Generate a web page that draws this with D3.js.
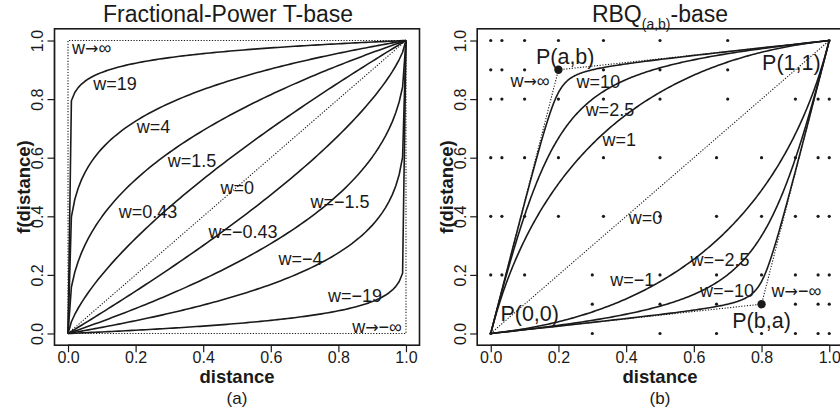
<!DOCTYPE html>
<html>
<head>
<meta charset="utf-8">
<script src="https://cdn.jsdelivr.net/npm/d3@7/dist/d3.min.js"></script>
<style>
  html, body { margin: 0; padding: 0; background: #fff; }
  svg text { font-family: "Liberation Sans", Arial, Helvetica, sans-serif; fill: #1a1a1a; }
  svg tspan.sym { font-family: "DejaVu Sans", sans-serif; }
</style>
</head>
<body>
<svg id="chart" width="840" height="416"></svg>
<script>
// ---- data -------------------------------------------------------------
const tickValues = [0, 0.2, 0.4, 0.6, 0.8, 1.0];
const tickLabels = ["0.0", "0.2", "0.4", "0.6", "0.8", "1.0"];

// Fractional-power T-base: one curve per shape parameter w
const powerW = [19, 4, 1.5, 0.43, -0.43, -1.5, -4, -19];
const powerLabels = ["w=19", "w=4", "w=1.5", "w=0.43", "w=\u22120.43", "w=\u22121.5", "w=\u22124", "w=\u221219"];
// distance sampling used for the power curves
const distanceSamples = d3.range(0, 101).map(i => i / 100);

// RBQ(a,b)-base: rational quadratic Bezier, control point P(a,b) for w>0, P(b,a) for w<0
const ctrlPos = [0.2, 0.9];   // P(a,b)
const ctrlNeg = [0.8, 0.1];   // P(b,a)
const rbqW = [10, 2.5, 1, -1, -2.5, -10];
const rbqLabels = ["w=10", "w=2.5", "w=1", "w=\u22121", "w=\u22122.5", "w=\u221210"];

// reference point lattice in panel (b): rows (f values) and their distance positions
const latticeRows = [1.0, 0.9, 0.8, 0.6, 0.4, 0.2, 0.1, 0.0];
const latticeCols = [
  [0, 0.033, 0.1, 0.2, 0.333, 0.5, 0.7, 1],
  [0, 0.033, 0.1, 0.333, 0.5, 0.7],
  [0, 0.033, 0.1, 0.2, 0.333, 0.5, 0.7, 0.9, 0.967, 1],
  [0, 0.033, 0.1, 0.2, 0.333, 0.5, 0.667, 0.8, 0.9, 0.967, 1],
  [0, 0.033, 0.1, 0.2, 0.333, 0.5, 0.667, 0.8, 0.9, 0.967, 1],
  [0, 0.033, 0.1, 0.3, 0.5, 0.667, 0.8, 0.9, 0.967, 1],
  [0.3, 0.5, 0.667, 0.9, 0.967, 1],
  [0, 0.3, 0.5, 0.667, 0.8, 0.9, 0.967, 1]
];

// ---- curve definitions ------------------------------------------------
function fracPower(w, d) {
  return w >= 0 ? Math.pow(d, 1 / (1 + w)) : 1 - Math.pow(1 - d, 1 / (1 - w));
}
function rbqPoint(w, t) {
  const c = w >= 0 ? ctrlPos : ctrlNeg, om = Math.abs(w);
  const b0 = (1 - t) * (1 - t), b1 = 2 * t * (1 - t) * om, b2 = t * t;
  const den = b0 + b1 + b2;
  return [(b1 * c[0] + b2) / den, (b1 * c[1] + b2) / den];
}

// ---- layout -----------------------------------------------------------
const svg = d3.select("#chart");
const ink = "#1a1a1a";
const domain = [-0.04, 1.04];
const y = d3.scaleLinear().domain(domain).range([345.2, 28.8]);
const panels = [
  { x: d3.scaleLinear().domain(domain).range([54.5, 419.5]), cx: 237, titleX: 228, tag: "(a)" },
  { x: d3.scaleLinear().domain(domain).range([477.2, 842.8]), cx: 660, titleX: 660, tag: "(b)" }
];

function drawFrame(p) {
  const g = svg.append("g");
  const [x0, x1] = p.x.range();
  g.append("rect").attr("x", x0).attr("y", y.range()[1])
    .attr("width", x1 - x0).attr("height", y.range()[0] - y.range()[1])
    .attr("fill", "none").attr("stroke", ink).attr("stroke-width", 1.6);

  const ax = g.append("g").attr("transform", `translate(0,${y.range()[0]})`)
    .call(d3.axisBottom(p.x).tickValues(tickValues).tickFormat((d, i) => tickLabels[i]).tickSize(7).tickSizeOuter(0));
  ax.select(".domain").attr("d", `M${p.x(0)},0H${p.x(1)}`).attr("stroke", ink).attr("stroke-width", 1.2);
  ax.selectAll(".tick line").attr("stroke", ink).attr("stroke-width", 1.2);
  ax.selectAll(".tick text").attr("y", 18).attr("dy", null).attr("font-size", 16).style("fill", ink);

  const ay = g.append("g").attr("transform", `translate(${x0},0)`)
    .call(d3.axisLeft(y).tickValues(tickValues).tickFormat((d, i) => tickLabels[i]).tickSize(7).tickSizeOuter(0));
  ay.select(".domain").attr("d", `M0,${y(0)}V${y(1)}`).attr("stroke", ink).attr("stroke-width", 1.2);
  ay.selectAll(".tick line").attr("stroke", ink).attr("stroke-width", 1.2);
  ay.selectAll(".tick text").attr("x", null).attr("dy", null)
    .attr("transform", "translate(-11.5,0) rotate(-90)").attr("text-anchor", "middle")
    .attr("font-size", 16).style("fill", ink);

  g.append("text").attr("x", p.cx).attr("y", 383).attr("text-anchor", "middle")
    .attr("font-size", 18.5).attr("font-weight", "bold").text("distance");
  g.append("text").attr("x", p.cx).attr("y", 404).attr("text-anchor", "middle")
    .attr("font-size", 17).text(p.tag);
  g.append("text").attr("transform", `translate(${x0 - 24.5},${(y(0) + y(1)) / 2}) rotate(-90)`)
    .attr("text-anchor", "middle").attr("font-size", 18.5).attr("font-weight", "bold").text("f(distance)");
}
panels.forEach(drawFrame);

function lineOf(xs) { return d3.line().x(d => xs(d[0])).y(d => y(d[1])); }
function solid(sel) { return sel.attr("fill", "none").attr("stroke", ink).attr("stroke-width", 1.6).attr("stroke-linejoin", "round"); }
function dotted(sel) { return sel.attr("fill", "none").attr("stroke", ink).attr("stroke-width", 1.1).attr("stroke-dasharray", "1.2,1.6"); }
function label(g, xs, px, py, txt, size, anchor) {
  return g.append("text").attr("x", xs(px)).attr("y", y(py)).attr("dominant-baseline", "central")
    .attr("text-anchor", anchor || "middle").attr("font-size", size).text(txt);
}
// "w → ±∞" limit labels, arrow set in a font with a full-width arrow glyph
function limitLabel(g, xs, px, py, neg, anchor) {
  const t = g.append("text").attr("x", xs(px)).attr("y", y(py)).attr("dominant-baseline", "central")
    .attr("text-anchor", anchor || "middle").attr("font-size", 18);
  t.append("tspan").text("w");
  t.append("tspan").attr("class", "sym").attr("font-size", 16).text("\u2192");
  t.append("tspan").text((neg ? "\u2212" : "") + "\u221E");
  return t;
}

// ---- panel (a): Fractional-Power T-base -------------------------------
{
  const xs = panels[0].x, line = lineOf(xs);
  const g = svg.append("g");
  svg.append("text").attr("x", panels[0].titleX).attr("y", 22).attr("text-anchor", "middle")
    .attr("font-size", 23).text("Fractional-Power T-base");

  dotted(g.append("path")).attr("d", line([[0, 0], [1, 1]]));
  dotted(g.append("path")).attr("d", line([[0, 0], [0, 1], [1, 1]]));
  dotted(g.append("path")).attr("d", line([[0, 0], [1, 0], [1, 1]]));

  powerW.forEach(w => {
    solid(g.append("path")).attr("d", line(distanceSamples.map(d => [d, fracPower(w, d)])));
  });

  const pos = [[0.139, 0.851], [0.253, 0.706], [0.367, 0.589], [0.237, 0.416],
               [0.518, 0.345], [0.805, 0.450], [0.688, 0.253], [0.849, 0.128]];
  powerLabels.forEach((t, i) => label(g, xs, pos[i][0], pos[i][1], t, 18));
  label(g, xs, 0.501, 0.496, "w=0", 18);
  limitLabel(g, xs, 0.012, 0.974, false, "start");
  limitLabel(g, xs, 0.988, 0.023, true, "end");
}

// ---- panel (b): RBQ(a,b)-base ----------------------------------------
{
  const xs = panels[1].x, line = lineOf(xs);
  const g = svg.append("g");
  const title = svg.append("text").attr("x", panels[1].titleX).attr("y", 22)
    .attr("text-anchor", "middle").attr("font-size", 23);
  title.append("tspan").text("RBQ");
  title.append("tspan").attr("font-size", 14).attr("dy", 7).text("(a,b)");
  title.append("tspan").attr("dy", -7).text("-base");

  const tSamples = d3.range(0, 201).map(i => i / 200);
  dotted(g.append("path")).attr("d", line([[0, 0], [1, 1]]));
  dotted(g.append("path")).attr("d", line([[0, 0], ctrlPos, [1, 1]]));
  dotted(g.append("path")).attr("d", line([[0, 0], ctrlNeg, [1, 1]]));

  rbqW.forEach(w => {
    solid(g.append("path")).attr("d", line(tSamples.map(t => rbqPoint(w, t))));
  });

  latticeRows.forEach((fy, r) => {
    latticeCols[r].forEach(fx => {
      g.append("circle").attr("cx", xs(fx)).attr("cy", y(fy)).attr("r", 1.6).attr("fill", ink);
    });
  });
  [ctrlPos, ctrlNeg].forEach(c => {
    g.append("circle").attr("cx", xs(c[0])).attr("cy", y(c[1])).attr("r", 4.2).attr("fill", ink);
  });

  const pos = [[0.318, 0.859], [0.352, 0.763], [0.380, 0.660], [0.418, 0.183], [0.677, 0.251], [0.698, 0.145]];
  rbqLabels.forEach((t, i) => label(g, xs, pos[i][0], pos[i][1], t, 18));
  label(g, xs, 0.457, 0.394, "w=0", 18);
  limitLabel(g, xs, 0.116, 0.862, false);
  limitLabel(g, xs, 0.903, 0.146, true);
  label(g, xs, 0.220, 0.944, "P(a,b)", 21.5);
  label(g, xs, 0.888, 0.923, "P(1,1)", 21.5);
  label(g, xs, 0.115, 0.066, "P(0,0)", 21.5);
  label(g, xs, 0.800, 0.044, "P(b,a)", 21.5);
}
</script>
</body>
</html>
